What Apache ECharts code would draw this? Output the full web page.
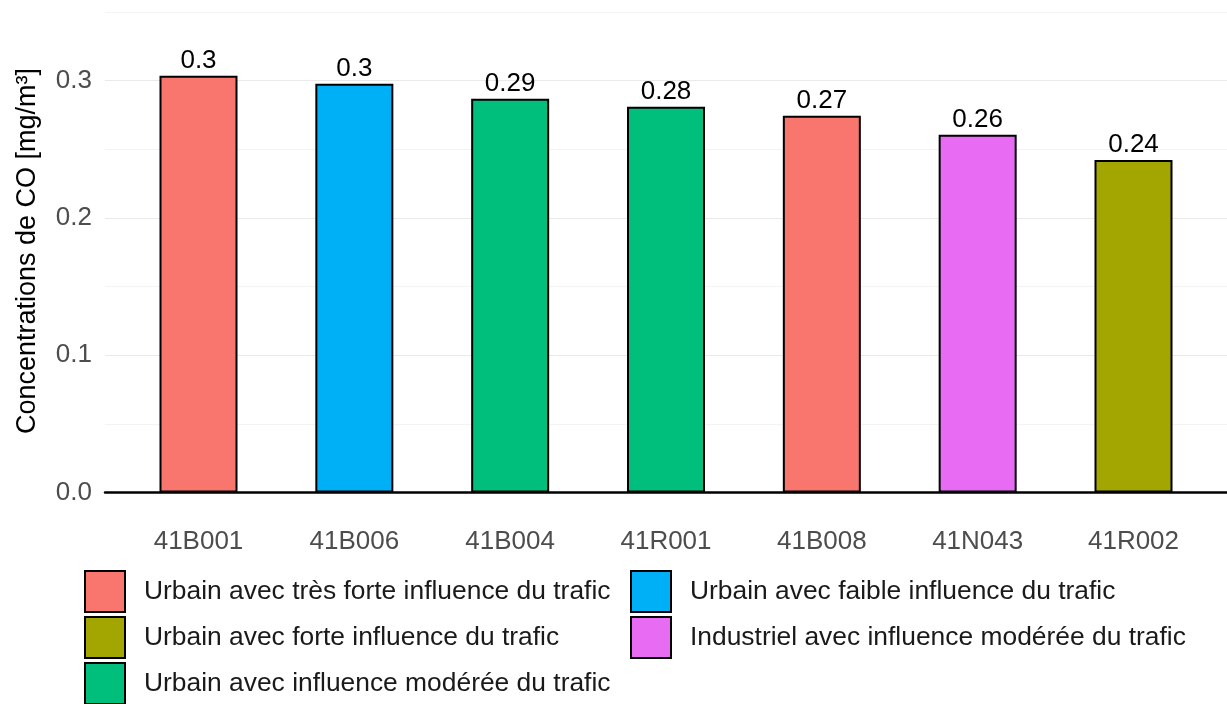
<!DOCTYPE html>
<html><head><meta charset="utf-8">
<script src="https://cdn.jsdelivr.net/npm/echarts@6/dist/echarts.min.js"></script>
<style>html,body{margin:0;padding:0;background:#fff}#c{width:1227px;height:704px}</style>
</head><body><div id="c"></div>
<script>
const stations = ['41B001','41B006','41B004','41R001','41B008','41N043','41R002'];
const values = [0.3036, 0.2978, 0.2869, 0.2810, 0.2745, 0.2606, 0.2423];
const stationType = [
  'Urbain avec très forte influence du trafic',
  'Urbain avec faible influence du trafic',
  'Urbain avec influence modérée du trafic',
  'Urbain avec influence modérée du trafic',
  'Urbain avec très forte influence du trafic',
  'Industriel avec influence modérée du trafic',
  'Urbain avec forte influence du trafic'
];
const types = [
  'Urbain avec très forte influence du trafic',
  'Urbain avec faible influence du trafic',
  'Urbain avec forte influence du trafic',
  'Industriel avec influence modérée du trafic',
  'Urbain avec influence modérée du trafic'
];
const typeColors = ['#F8766D','#00B0F6','#A3A500','#E76BF3','#00BF7D'];
const yTicks = [0, 0.1, 0.2, 0.3];

const font = '"Liberation Sans", Arial, sans-serif';
const chart = echarts.init(document.getElementById('c'), null, {renderer:'canvas'});

const series = types.map((t, k) => ({
  name: t,
  type: 'bar',
  stack: 'one',
  barWidth: 78,
  itemStyle: {color: typeColors[k], borderColor: '#000', borderWidth: 2},
  label: {
    show: true, position: 'top', distance: 2,
    fontFamily: font, fontSize: 26, color: '#000',
    formatter: p => String(+p.value[1].toFixed(2))
  },
  data: stations.map((s, i) => stationType[i] === t ? [i, values[i]] : null).filter(d => d)
}));

// split line colours: 0.00 (under axis), minor, major, minor, major, minor, major, minor(0.35), top edge
const gridColors = ['#ebebeb','#f3f3f3','#e9e9e9','#f3f3f3','#e9e9e9','#f3f3f3','#e9e9e9','#f3f3f3','rgba(0,0,0,0)','rgba(0,0,0,0)'];

chart.setOption({
  animation: false,
  backgroundColor: '#fff',
  grid: {left: 105, right: 0, top: 0, bottom: 211.5, containLabel: false},
  xAxis: {
    type: 'value', min: -0.6, max: 6.6,
    axisLine: {show: true, onZero: false, lineStyle: {color: '#000', width: 2.5}},
    axisTick: {show: false},
    splitLine: {show: false},
    axisLabel: {
      customValues: stations.map((s, i) => i),
      formatter: v => stations[Math.round(v)] || '',
      fontFamily: font, fontSize: 26, color: '#4d4d4d', margin: 36
    }
  },
  yAxis: {
    type: 'value', min: 0, max: 0.3588, interval: 0.05,
    axisLine: {show: false}, axisTick: {show: false},
    axisLabel: {
      customValues: yTicks,
      formatter: v => v.toFixed(1),
      fontFamily: font, fontSize: 26, color: '#4d4d4d', margin: 13
    },
    splitLine: {show: true, lineStyle: {color: gridColors, width: 1.2}}
  },
  legend: [
    {
      orient: 'vertical', left: 84, top: 570, height: 300, padding: 0,
      itemWidth: 40, itemHeight: 41, itemGap: 3, icon: 'rect',
      data: [types[0], types[2], types[4]],
      textStyle: {fontFamily: font, fontSize: 26.4, color: '#1a1a1a', padding: [0,0,0,14]}
    },
    {
      orient: 'vertical', left: 630, top: 570, height: 300, padding: 0,
      itemWidth: 40, itemHeight: 41, itemGap: 3, icon: 'rect',
      data: [types[1], types[3]],
      textStyle: {fontFamily: font, fontSize: 26.4, color: '#1a1a1a', padding: [0,0,0,14]}
    }
  ],
  graphic: [{
    type: 'text', x: 28, y: 251, rotation: Math.PI / 2,
    style: {
      text: 'Concentrations de CO [mg/m³]',
      font: '27px "Liberation Sans", Arial, sans-serif',
      fill: '#000', textAlign: 'center', textVerticalAlign: 'middle'
    }
  }],
  series: series
});
</script></body></html>
